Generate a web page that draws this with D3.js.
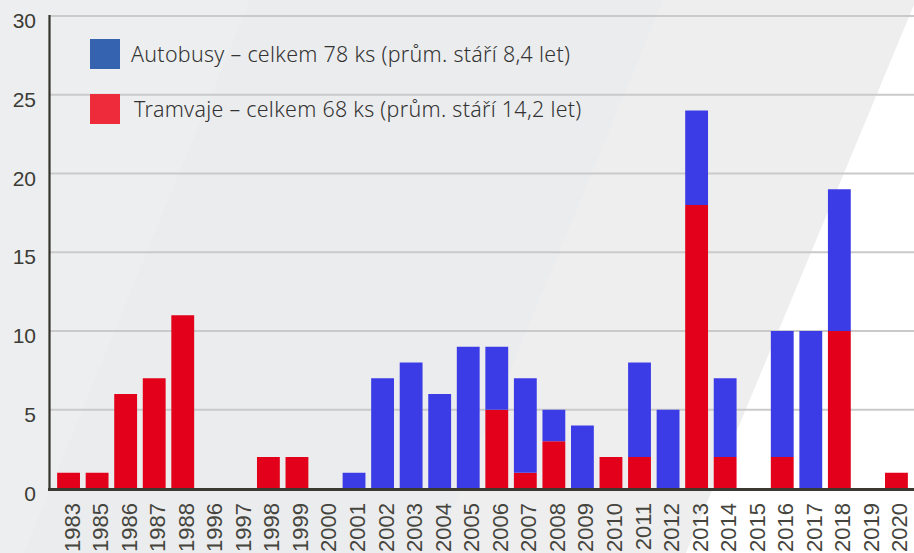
<!DOCTYPE html>
<html>
<head>
<meta charset="utf-8">
<script src="https://cdn.jsdelivr.net/npm/d3@7"></script>
<style>
  body { margin: 0; background: #ebecee; }
  svg { display: block; }
</style>
</head>
<body>
<svg id="chart" width="914" height="553"></svg>
<script>
// data
var years = ['1983','1985','1986','1987','1988','1996','1997','1998','1999','2000',
             '2001','2002','2003','2004','2005','2006','2007','2008','2009','2010',
             '2011','2012','2013','2014','2015','2016','2017','2018','2019','2020'];
var tram = [1,1,6,7,11,0,0,2,2,0, 0,0,0,0,0,5,1,3,0,2, 2,0,18,2,0,2,0,10,0,1];
var bus  = [0,0,0,0,0,0,0,0,0,0, 1,7,8,6,9,4,6,2,4,0, 6,5,6,5,0,8,10,9,0,0];
var yTicks = [0,5,10,15,20,25,30];
var legendItems = [
    {label: 'Autobusy – celkem 78 ks (prům. stáří 8,4 let)', color: '#3563b0'},
    {label: 'Tramvaje – celkem 68 ks (prům. stáří 14,2 let)', color: '#ee2b3a'}
];

var W = 914, H = 553;
var svg = d3.select('#chart');

// background shapes
svg.append('polygon').attr('points', '0,0 250,0 24,553 0,553').attr('fill', '#edeef0');
svg.append('polygon').attr('points', '663,0 916,0 686,553 435,553').attr('fill', '#eeeeef');
svg.append('polygon').attr('points', '916,0 914,0 914,553 686,553').attr('fill', '#ffffff');

var rows = years.map(function(y, i) { return {year: y, tram: tram[i], bus: bus[i]}; });

var x = d3.scaleBand().domain(years).range([50, 915]).paddingInner(0.2).paddingOuter(0.25);
var y = d3.scaleLinear().domain([0, 30]).range([488.5, 16]);

// grid
svg.append('g').selectAll('line').data(yTicks.slice(1)).enter().append('line')
    .attr('x1', 50).attr('x2', W)
    .attr('y1', function(d){ return y(d); }).attr('y2', function(d){ return y(d); })
    .attr('stroke', '#cacaca').attr('stroke-width', 1.8);

// y labels
svg.append('g').selectAll('text').data(yTicks).enter().append('text')
    .attr('x', 36).attr('y', function(d){ return y(d) + 12; })
    .attr('text-anchor', 'end')
    .style('font-family', 'Liberation Sans, Arial, sans-serif').style('font-size', '21px')
    .attr('fill', '#3c3c36')
    .text(function(d){ return d; });

// stacked bars
var stack = d3.stack().keys(['tram', 'bus']);
var colors = {tram: '#e2001a', bus: '#3c3ce6'};
svg.append('g').selectAll('g').data(stack(rows)).enter().append('g')
    .attr('fill', function(s){ return colors[s.key]; })
    .selectAll('rect').data(function(s){ return s; }).enter().append('rect')
    .attr('x', function(d){ return x(d.data.year); })
    .attr('width', x.bandwidth())
    .attr('y', function(d){ return y(d[1]); })
    .attr('height', function(d){ return y(d[0]) - y(d[1]); });

// axes lines
svg.append('line').attr('x1', 49.5).attr('x2', 49.5).attr('y1', 15).attr('y2', 490)
    .attr('stroke', '#33332b').attr('stroke-width', 2.2);
svg.append('line').attr('x1', 48).attr('x2', W).attr('y1', 489.5).attr('y2', 489.5)
    .attr('stroke', '#3a3a32').attr('stroke-width', 3);

// x labels
svg.append('g').selectAll('text').data(years).enter().append('text')
    .attr('transform', function(d){ return 'translate(' + (x(d) + x.bandwidth()/2 + 11) + ',503) rotate(-90)'; })
    .attr('text-anchor', 'end')
    .style('font-family', 'Liberation Sans, Arial, sans-serif').style('font-size', '22px')
    .attr('fill', '#45453d')
    .text(function(d){ return d; });

// legend
var lg = svg.append('g').selectAll('g').data(legendItems).enter().append('g')
    .attr('transform', function(d, i){ return 'translate(90,' + (39 + i*55) + ')'; });
lg.append('rect').attr('width', 30).attr('height', 30).attr('fill', function(d){ return d.color; });
lg.append('text').attr('x', function(d, i){ return i ? 44 : 41; }).attr('y', 23)
    .style('font-family', '"Noto Sans", sans-serif').style('font-size', '21.4px')
    .style('font-weight', 300).style('letter-spacing', '0.3px')
    .attr('fill', '#333')
    .text(function(d){ return d.label; });
</script>
</body>
</html>
